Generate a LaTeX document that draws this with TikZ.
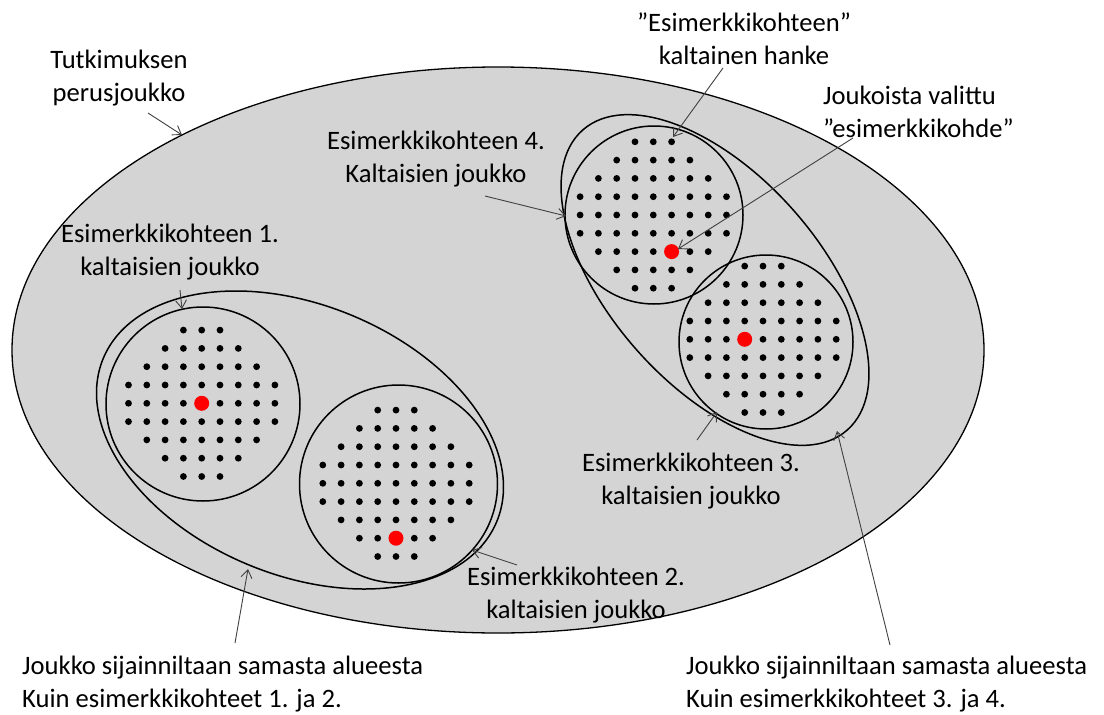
\documentclass[tikz,border=0pt]{standalone}
\usepackage{fontspec}
\setmainfont{Carlito}
\usetikzlibrary{arrows.meta}
\definecolor{areagray}{RGB}{212,212,212}
\definecolor{pointergray}{RGB}{64,64,64}

\begin{document}
\begin{tikzpicture}[x=1pt,y=-1pt,
  ring/.style={line width=1.5pt},
  pointer/.style={draw=pointergray,line width=0.9pt,-{Straight Barb[length=8pt,width=11pt]}},
  lbl/.style={font=\fontsize{26.6}{33}\selectfont,align=center,inner sep=0pt},
  lblleft/.style={lbl,align=left,anchor=west}]
\useasboundingbox (0,0) rectangle (1104,715);

\draw[ring,line width=1.3pt,fill=areagray] (498,350) ellipse [x radius=486,y radius=283];%perusjoukko

\draw[ring,rotate around={-22.5:(300,440)}] (300,440) ellipse [x radius=213,y radius=135];%alue 1-2
\draw[ring,rotate around={-48.6:(715,280)}] (715,280) ellipse [x radius=200,y radius=105];%alue 3-4

\draw[ring] (203,404) circle (97);
\draw[ring] (398.5,484) circle (99);
\draw[ring] (654,215) circle (89);
\draw[ring] (766,342) circle (87);

\foreach \cx/\cy in {201.7/403.3, 396/483.3, 653.3/215, 763/339.3}{%pisteet
  \foreach \i in {-4,...,4}{
    \pgfmathtruncatemacro\w{min(4,5-abs(\i))}
    \foreach \j in {-\w,...,\w}
      \fill (\cx+\j*18.3,\cy+\i*18.3) circle (3.4);
  }
}

\fill[red] (201.7,403.3) circle (7.5);
\fill[red] (396,538.2) circle (7.5);
\fill[red] (671.6,251.6) circle (7.5);
\fill[red] (744.7,339.3) circle (7.5);

\node[lbl] (perus) at (119,78) {Tutkimuksen\\perusjoukko};
\node[lbl] (kohde1) at (170,252) {Esimerkkikohteen 1.\\kaltaisien joukko};
\node[lbl] (kohde4) at (436,159) {Esimerkkikohteen 4.\\Kaltaisien joukko};
\node[lbl] (hanke) at (744,39) {”Esimerkkikohteen”\\kaltainen hanke};
\node[lblleft] (valittu) at (823,112) {Joukoista valittu\\”esimerkkikohde”};
\node[lbl] (kohde3) at (691,481) {Esimerkkikohteen 3.\\kaltaisien joukko};
\node[lbl] (kohde2) at (576,595) {Esimerkkikohteen 2.\\kaltaisien joukko};
\node[lblleft] (alue12) at (22,684) {Joukko sijainniltaan samasta alueesta\\Kuin esimerkkikohteet 1. ja 2.};
\node[lblleft] (alue34) at (686,684) {Joukko sijainniltaan samasta alueesta\\Kuin esimerkkikohteet 3. ja 4.};

\coordinate (perusA) at (148,113);  \coordinate (perusB) at (182,135);
\coordinate (kohde1A) at (180,290); \coordinate (kohde1B) at (182,309);
\coordinate (kohde4A) at (485,196); \coordinate (kohde4B) at (566,216);
\coordinate (hankeA) at (723,68);   \coordinate (hankeB) at (673,137);
\coordinate (valittuA) at (853,138); \coordinate (valittuB) at (678,249);
\coordinate (kohde3A) at (697,440); \coordinate (kohde3B) at (717,412);
\coordinate (kohde2A) at (517,565); \coordinate (kohde2B) at (472,550);
\coordinate (alue12A) at (235,643); \coordinate (alue12B) at (248,569);
\coordinate (alue34A) at (890,645); \coordinate (alue34B) at (837,431);

\foreach \n in {perus,kohde1,kohde4,hanke,valittu,kohde3,kohde2,alue12,alue34}
  \draw[pointer] (\n A) -- (\n B);%nuolet

\end{tikzpicture}
\end{document}
